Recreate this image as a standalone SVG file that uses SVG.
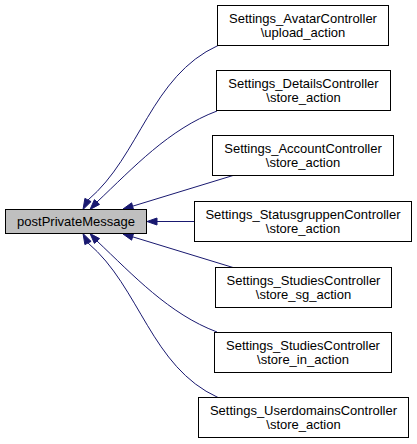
<svg xmlns="http://www.w3.org/2000/svg" width="417" height="444" viewBox="0 0 417 444">
<style>
.box{fill:#ffffff;stroke:#000000;stroke-width:1}
.main{fill:#bfbfbf;stroke:#000000;stroke-width:1}
text{font-family:"Liberation Sans",Arial,sans-serif;font-size:13px;fill:#000000;text-anchor:middle}
.edge{fill:none;stroke:#191970;stroke-width:1}
.head{fill:#191970;stroke:#191970;stroke-width:1}
</style>
<rect width="417" height="444" fill="#ffffff"/>
<g id="connectors">
<path class="edge" d="M218,45.5 C151,76 140,156 88,200"/>
<polygon class="head" points="91.1,201.6 83,209.5 84.9,198.4"/>
<path class="edge" d="M217,111 C169,129 133,168 97,202"/>
<polygon class="head" points="99.56,204.39 90,209.5 94.44,199.61"/>
<path class="edge" d="M233,175.5 L132.6,206.2"/>
<polygon class="head" points="133.57,209.56 123,209 131.63,202.84"/>
<path class="edge" d="M194,221.5 L157,221.5"/>
<polygon class="head" points="157,218 147,221.5 157,225"/>
<path class="edge" d="M233,267.5 L132.6,236.8"/>
<polygon class="head" points="133.57,233.44 123,234 131.63,240.16"/>
<path class="edge" d="M217,332 C169,314 133,275 97,241"/>
<polygon class="head" points="99.56,238.61 90,233.5 94.44,243.39"/>
<path class="edge" d="M218,397.5 C151,367 140,287 88,243"/>
<polygon class="head" points="91.1,241.4 83,233.5 84.9,244.6"/>
</g>
<g id="node_main">
<rect class="main" x="5.5" y="209.5" width="141" height="24"/>
<text x="76" y="226">postPrivateMessage</text>
</g>
<g id="node_avatar">
<rect class="box" x="217.5" y="5.5" width="171" height="40"/>
<text x="303" y="22.7">Settings_AvatarController</text>
<text x="303" y="36.7">\upload_action</text>
</g>
<g id="node_details">
<rect class="box" x="216.5" y="70.5" width="174" height="40"/>
<text x="303.5" y="87.7">Settings_DetailsController</text>
<text x="303.5" y="101.7">\store_action</text>
</g>
<g id="node_account">
<rect class="box" x="212.5" y="135.5" width="181" height="40"/>
<text x="303" y="152.7">Settings_AccountController</text>
<text x="303" y="166.7">\store_action</text>
</g>
<g id="node_statusgruppen">
<rect class="box" x="194.5" y="201.5" width="217" height="40"/>
<text x="303" y="218.7">Settings_StatusgruppenController</text>
<text x="303" y="232.7">\store_action</text>
</g>
<g id="node_studies_sg">
<rect class="box" x="215.5" y="267.5" width="176" height="40"/>
<text x="303.5" y="284.7">Settings_StudiesController</text>
<text x="303.5" y="298.7">\store_sg_action</text>
</g>
<g id="node_studies_in">
<rect class="box" x="214.5" y="332.5" width="177" height="40"/>
<text x="303" y="349.7">Settings_StudiesController</text>
<text x="303" y="363.7">\store_in_action</text>
</g>
<g id="node_userdomains">
<rect class="box" x="198.5" y="397.5" width="210" height="40"/>
<text x="303.5" y="414.7">Settings_UserdomainsController</text>
<text x="303.5" y="428.7">\store_action</text>
</g>
</svg>
